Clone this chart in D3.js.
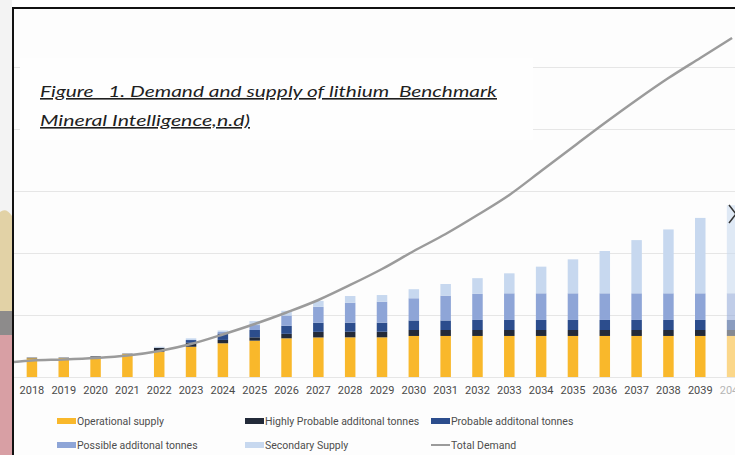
<!DOCTYPE html>
<html>
<head>
<meta charset="utf-8">
<script src="https://cdn.jsdelivr.net/npm/d3@7"></script>
<style>
  html, body { margin: 0; padding: 0; background: #ffffff; }
  svg { display: block; }
</style>
</head>
<body>
<script>
// lithium demand vs supply, values in kt LCE

var years = ["2018", "2019", "2020", "2021", "2022", "2023", "2024", "2025", "2026", "2027", "2028",
             "2029", "2030", "2031", "2032", "2033", "2034", "2035", "2036", "2037", "2038", "2039", "2040"];

var operational    = [151, 153, 161, 185, 204, 244, 272, 293, 312, 319, 320, 320, 331, 331, 331, 331, 331, 331, 331, 331, 331, 331, 331];
var highlyProbable = [5, 3, 5, 3, 32, 32, 27, 27, 36, 45, 45, 45, 48, 48, 48, 48, 48, 48, 48, 48, 48, 48, 48];
var probable       = [0, 0, 0, 0, 0, 22, 52, 59, 65, 73, 73, 73, 77, 77, 81, 81, 81, 81, 81, 81, 81, 81, 81];
var possible       = [0, 0, 0, 0, 0, 0, 12, 40, 83, 129, 161, 169, 179, 200, 210, 215, 215, 215, 215, 215, 215, 215, 215];
var secondary      = [0, 0, 0, 0, 8, 14, 12, 32, 38, 48, 54, 54, 73, 94, 127, 161, 215, 274, 341, 429, 515, 608, 710];
var totalDemand    = [133, 141, 153, 173, 210, 266, 343, 427, 520, 621, 742, 871, 1016, 1153, 1306, 1468, 1661, 1855, 2048, 2234, 2411, 2573, 2734];

var yTicks = [0, 500, 1000, 1500, 2000, 2500];

var seriesKeys  = ["Operational supply", "Highly Probable additonal tonnes", "Probable additonal tonnes",
                   "Possible additonal tonnes", "Secondary Supply"];
var seriesData  = [operational, highlyProbable, probable, possible, secondary];
var seriesColor = ["#f9b82b", "#232a39", "#2c4d8d", "#8ea5d7", "#c7d8ef"];

var captionLines = ["Figure   1. Demand and supply of lithium  Benchmark", "Mineral Intelligence,n.d)"];

function run_d3 () {

    var width = 735, height = 455;

    var svg = d3.select("body").append("svg")
        .attr("width", width)
        .attr("height", height);

    // document bits around the chart frame
    var deco = svg.append("g");
    deco.append("rect").attr("x", 0).attr("y", 0).attr("width", 12).attr("height", 455).attr("fill", "#f3f3f3");
    deco.append("path")
        .attr("d", "M0,212 Q6,207 12,216 L12,312 L0,312 Z")
        .attr("fill", "#e2d2a6");
    deco.append("rect").attr("x", 0).attr("y", 311).attr("width", 12).attr("height", 24).attr("fill", "#8d8b8b");
    deco.append("rect").attr("x", 0).attr("y", 335).attr("width", 12).attr("height", 120).attr("fill", "#d89fa4");

    // chart panel
    svg.append("rect")
        .attr("x", 13).attr("y", 8)
        .attr("width", width - 13).attr("height", height - 8)
        .attr("fill", "#fdfdfd");

    var plotLeft = 14, plotRight = width;

    var x = d3.scaleBand()
        .domain(years)
        .range([16, 748])
        .paddingInner(0.67)
        .paddingOuter(0.335);

    var y = d3.scaleLinear()
        .domain([0, 3000])
        .range([377, 5]);

    // gridlines
    svg.append("g").selectAll("line")
        .data(yTicks)
        .enter()
        .append("line")
        .attr("x1", plotLeft).attr("x2", plotRight)
        .attr("y1", function(d){ return Math.round(y(d)) + 0.5; })
        .attr("y2", function(d){ return Math.round(y(d)) + 0.5; })
        .attr("stroke", "#e6e6e6")
        .attr("stroke-width", 1);

    // stacked bars
    var rows = years.map(function(yr, i) {
        var r = { year: yr };
        seriesKeys.forEach(function(k, j){ r[k] = seriesData[j][i]; });
        return r;
    });
    var stacked = d3.stack().keys(seriesKeys)(rows);

    var bars = svg.append("g");
    bars.selectAll("g")
        .data(stacked)
        .enter()
        .append("g")
        .attr("fill", function(d, i){ return seriesColor[i]; })
        .selectAll("rect")
        .data(function(d){ return d; })
        .enter()
        .append("rect")
        .attr("x", function(d){ return x(d.data.year); })
        .attr("y", function(d){ return y(d[1]); })
        .attr("width", x.bandwidth())
        .attr("height", function(d){ return Math.max(0, y(d[0]) - y(d[1])); })
        .attr("opacity", function(d){ return d.data.year === "2040" ? 0.55 : 1; });

    // total demand line, starts at the frame edge
    var pts = years.map(function(yr, i){ return [x(yr) + x.bandwidth() / 2, y(totalDemand[i])]; });
    pts.unshift([plotLeft, y(totalDemand[0]) + 1.5]);

    svg.append("path")
        .datum(pts)
        .attr("fill", "none")
        .attr("stroke", "#9b9b9b")
        .attr("stroke-width", 2.5)
        .attr("d", d3.line().curve(d3.curveMonotoneX));

    // year labels
    var xAxis = svg.append("g")
        .attr("transform", "translate(0,377)")
        .call(d3.axisBottom(x).tickSize(0).tickPadding(9));
    xAxis.select(".domain").remove();
    xAxis.selectAll("text")
        .attr("font-family", "Roboto, 'Open Sans', sans-serif")
        .attr("font-size", 11)
        .attr("fill", function(d){ return d === "2040" ? "#b5b5b5" : "#4a4a4a"; });

    // legend
    var legendItems = [
        { label: seriesKeys[0], color: seriesColor[0], x: 57,  y: 421, line: false },
        { label: seriesKeys[1], color: seriesColor[1], x: 245, y: 421, line: false },
        { label: seriesKeys[2], color: seriesColor[2], x: 431, y: 421, line: false },
        { label: seriesKeys[3], color: seriesColor[3], x: 57,  y: 445, line: false },
        { label: seriesKeys[4], color: seriesColor[4], x: 245, y: 445, line: false },
        { label: "Total Demand", color: "#9b9b9b",     x: 431, y: 445, line: true }
    ];

    var legend = svg.append("g").selectAll("g")
        .data(legendItems)
        .enter()
        .append("g")
        .attr("transform", function(d){ return "translate(" + d.x + "," + d.y + ")"; });

    legend.append("rect")
        .attr("x", 0)
        .attr("y", function(d){ return d.line ? -1 : -3; })
        .attr("width", 19)
        .attr("height", function(d){ return d.line ? 2 : 6; })
        .attr("fill", function(d){ return d.color; });

    legend.append("text")
        .attr("x", 20)
        .attr("y", 4)
        .attr("font-family", "Roboto, sans-serif")
        .attr("font-size", 10.5)
        .attr("fill", "#4d4d4d")
        .text(function(d){ return d.label; });

    // caption box laid over the chart
    svg.append("rect")
        .attr("x", 20).attr("y", 58)
        .attr("width", 513).attr("height", 82)
        .attr("fill", "#fefefe");

    svg.append("g").selectAll("text")
        .data(captionLines)
        .enter()
        .append("text")
        .attr("x", 40)
        .attr("y", function(d, i){ return 97 + i * 29; })
        .attr("font-family", "Lato, 'Open Sans', sans-serif")
        .attr("font-style", "italic")
        .attr("font-size", 16)
        .attr("fill", "#1f1f1f")
        .attr("text-decoration", "underline")
        .style("white-space", "pre")
        .attr("textLength", function(d, i){ return i === 0 ? 457 : 210; })
        .attr("lengthAdjust", "spacingAndGlyphs")
        .text(function(d){ return d; });

    // frame
    svg.append("line")
        .attr("x1", 13).attr("x2", 13).attr("y1", 7).attr("y2", height)
        .attr("stroke", "#111").attr("stroke-width", 2);
    svg.append("line")
        .attr("x1", 12).attr("x2", width).attr("y1", 8).attr("y2", 8)
        .attr("stroke", "#111").attr("stroke-width", 2);

    // close glyph at the right edge
    svg.append("path")
        .attr("d", "M729,205 L736,214 M729,223 L736,214")
        .attr("fill", "none")
        .attr("stroke", "#333")
        .attr("stroke-width", 1.5);
}

window.onload = run_d3;
</script>
</body>
</html>
